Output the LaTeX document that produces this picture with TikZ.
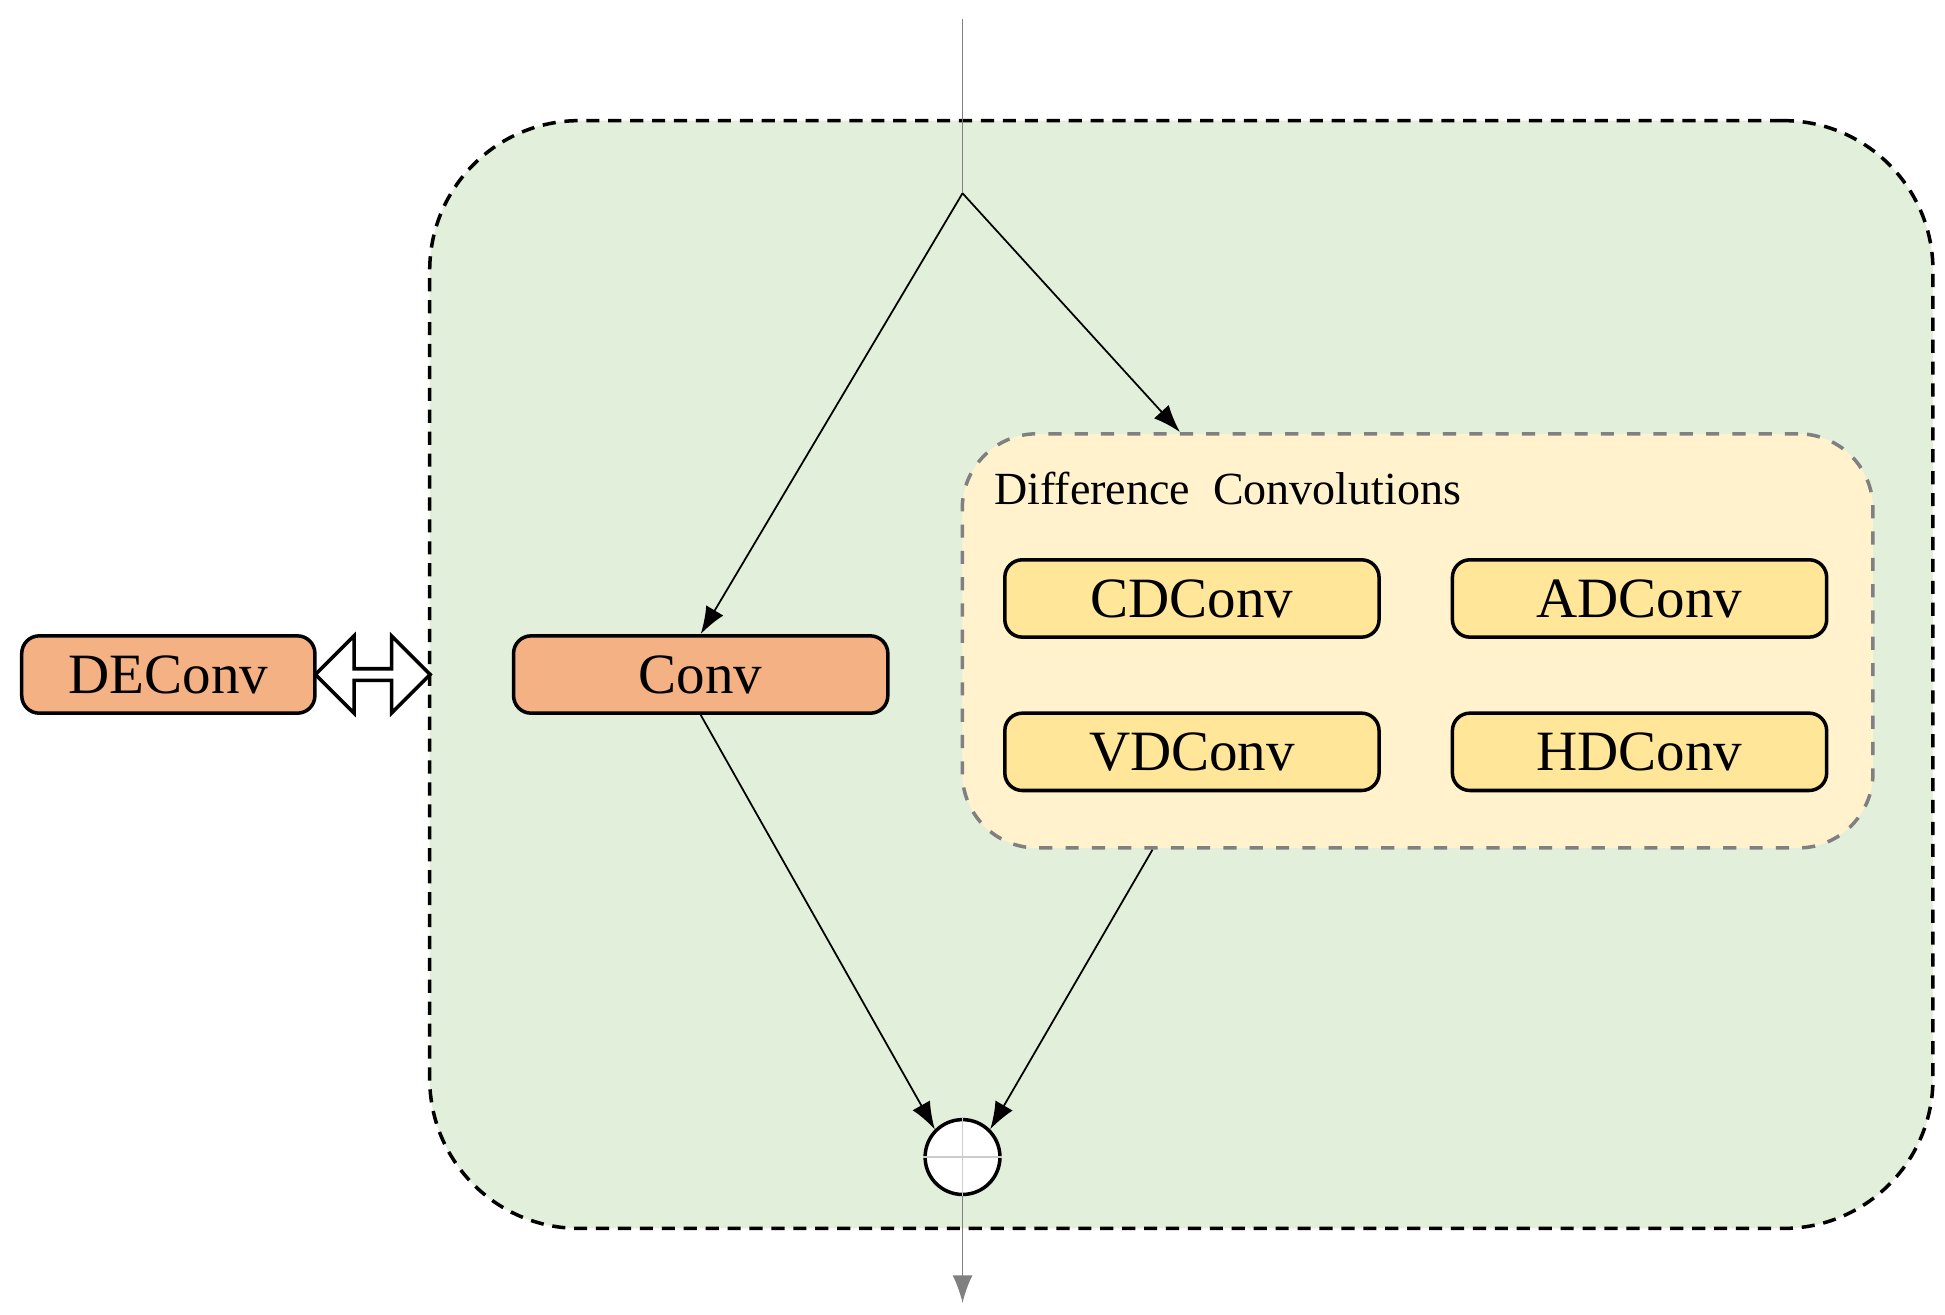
\documentclass[tikz,border=0pt]{standalone}
\usepackage{fontspec}
\setmainfont{Liberation Serif}
\usetikzlibrary{arrows.meta, positioning, calc, shapes.arrows}
\definecolor{outergreen}{HTML}{E2EFDA}
\definecolor{dcyellow}{HTML}{FFF2CC}
\definecolor{opyellow}{HTML}{FFE699}
\definecolor{convorange}{HTML}{F4B183}
\begin{document}
\begin{tikzpicture}[
        x=0.01cm, y=-0.01cm,
        conv/.style={rectangle, draw, thick, rounded corners=4pt, minimum width=3cm, minimum height=0.62cm, align=center, font=\fontsize{13}{15}\selectfont, fill=convorange},
        dc/.style={conv, fill=opyellow},
        arrow/.style={-{Latex[length=2.2mm,width=1.6mm]}, thin}
    ]
        \useasboundingbox (0,0) rectangle (1560,1054);

        % 1. Outer block
        \node (block) [draw, densely dashed, thick, rounded corners=1.2cm, fill=outergreen, minimum width=12.05cm, minimum height=8.88cm] at (947.5,541) {};

        % 2. Difference convolutions group
        \node (dcgroup) [draw=gray, dashed, thick, rounded corners=0.6cm, fill=dcyellow, minimum width=7.3cm, minimum height=3.32cm] at (1137,514) {};
        \node (dclabel) [anchor=west, font=\fontsize{10.5}{12}\selectfont] at (785,392) {Difference\ \ Convolutions};
        \node (cdconv) [dc] at (956,480) {CDConv};
        \node (adconv) [dc] at (1315,480) {ADConv};
        \node (vdconv) [dc] at (956,603) {VDConv};
        \node (hdconv) [dc] at (1315,603) {HDConv};

        % 3. Plain conv and DEConv
        \node (conv) [conv] at (562,541) {Conv};
        \node (deconv) [conv, minimum width=2.35cm] at (135,541) {DEConv};
        \node (swap) [double arrow, draw, thick, fill=white, minimum height=0.92cm, minimum width=0.62cm, double arrow head extend=0.08cm, inner sep=0pt] at (299,541) {};

        % 4. Sum node
        \node (sum) [circle, draw, thick, fill=white, minimum size=0.6cm, inner sep=0pt] at (772,928) {};
        \draw [gray!40] (sum.north) -- (sum.south) (sum.west) -- (sum.east);

        % Connections
        \coordinate (input) at (772,15);
        \coordinate (split) at (772,155);
        \coordinate (output) at (772,1045);
        \draw [gray] (input) -- (split);
        \draw [arrow] (split) -- (conv.north);
        \draw [arrow] (split) -- ($(dcgroup.north west)!0.24!(dcgroup.north east)$);
        \draw [arrow] (conv.south) -- (sum.north west);
        \draw [arrow] ($(dcgroup.south west)!0.21!(dcgroup.south east)$) -- (sum.north east);
        \draw [arrow, gray] (sum.south) -- (output);

    \end{tikzpicture}
\end{document}
